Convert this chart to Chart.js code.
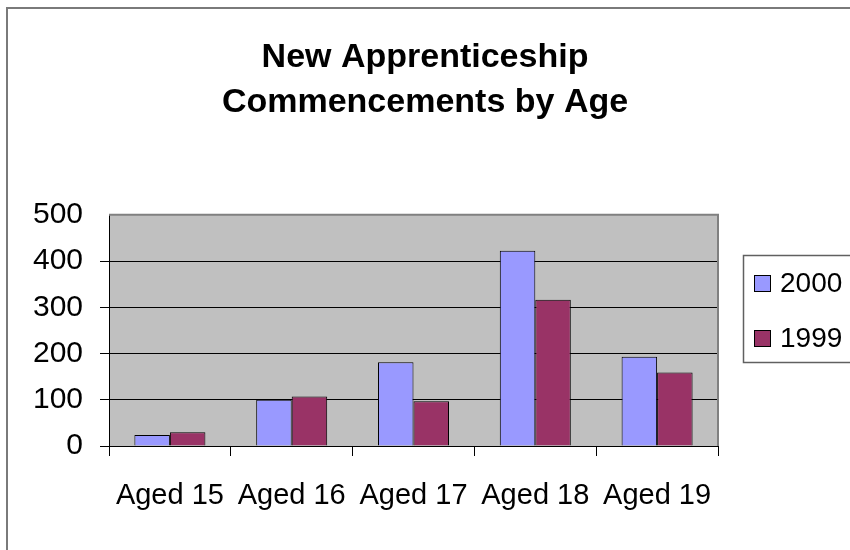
<!DOCTYPE html>
<html>
<head>
<meta charset="utf-8">
<script src="https://cdn.jsdelivr.net/npm/chart.js@4"></script>
<style>
  html, body { margin: 0; padding: 0; background: #fff; }
  #wrap { position: absolute; left: 0; top: 0; width: 850px; height: 550px; }
</style>
</head>
<body>
<div id="wrap"><canvas id="chart"></canvas></div>
<script>
// --- data ---
const ageLabels = ['Aged 15', 'Aged 16', 'Aged 17', 'Aged 18', 'Aged 19'];
const values2000 = [24, 100, 181, 422, 193];
const values1999 = [30, 107, 97, 316, 159];
const yTicks = [0, 100, 200, 300, 400, 500];

const FONT = '"Liberation Sans", Arial, sans-serif';

// grey plot background, outer frame, plot top/right edges
const frame = {
  id: 'frame',
  beforeDraw(chart) {
    const { ctx, chartArea: a } = chart;
    ctx.save();
    ctx.fillStyle = '#c0c0c0';
    ctx.fillRect(a.left, a.top, a.right - a.left, a.bottom - a.top);
    // outer chart border (only top and left are visible)
    ctx.strokeStyle = '#7a7a7a';
    ctx.lineWidth = 2;
    ctx.beginPath();
    ctx.moveTo(7, 560);
    ctx.lineTo(7, 8);
    ctx.lineTo(860, 8);
    ctx.stroke();
    ctx.restore();
  },
  afterDraw(chart) {
    const { ctx, chartArea: a } = chart;
    ctx.save();
    ctx.strokeStyle = '#808080';
    ctx.lineWidth = 2;
    ctx.beginPath();
    ctx.moveTo(a.left, a.top);
    ctx.lineTo(a.right, a.top);
    ctx.lineTo(a.right, a.bottom);
    ctx.stroke();
    ctx.restore();
  }
};

// boxed legend on the right, built from the datasets
const boxLegend = {
  id: 'boxLegend',
  afterDraw(chart) {
    const ctx = chart.ctx;
    ctx.save();
    ctx.strokeStyle = '#606060';
    ctx.lineWidth = 1.5;
    ctx.strokeRect(743.5, 255.5, 200, 107);
    ctx.font = '28px ' + FONT;
    ctx.textBaseline = 'middle';
    chart.data.datasets.forEach((ds, i) => {
      const cy = 283 + i * 55;
      ctx.fillStyle = ds.backgroundColor;
      ctx.fillRect(754, cy - 8, 17, 17);
      ctx.strokeStyle = '#000';
      ctx.lineWidth = 1;
      ctx.strokeRect(754.5, cy - 7.5, 16, 16);
      ctx.fillStyle = '#000';
      ctx.fillText(ds.label, 780, cy + 1);
    });
    ctx.restore();
  }
};

new Chart(document.getElementById('chart'), {
  type: 'bar',
  data: {
    labels: ageLabels,
    datasets: [
      { label: '2000', data: values2000, backgroundColor: '#9999ff', borderColor: '#000', borderWidth: 1 },
      { label: '1999', data: values1999, backgroundColor: '#993366', borderColor: '#000', borderWidth: 1 }
    ]
  },
  options: {
    responsive: true,
    maintainAspectRatio: false,
    animation: false,
    layout: { padding: 0 },
    datasets: { bar: { categoryPercentage: 0.583, barPercentage: 1 } },
    plugins: {
      legend: { display: false },
      tooltip: { enabled: false },
      title: {
        display: true,
        text: ['New Apprenticeship', 'Commencements by Age'],
        color: '#000',
        font: { family: FONT, size: 34, weight: 'bold', lineHeight: 1.32 },
        padding: { top: 35, bottom: 90 }
      }
    },
    scales: {
      x: {
        afterFit(scale) { scale.height = 104; },
        grid: { drawOnChartArea: false, color: '#000', tickLength: 10, offset: true },
        border: { color: '#000', width: 1 },
        ticks: { color: '#000', font: { family: FONT, size: 29 }, padding: 23, maxRotation: 0 }
      },
      y: {
        min: 0,
        max: 500,
        afterFit(scale) { scale.width = 109; },
        afterBuildTicks(scale) { scale.ticks = yTicks.map(v => ({ value: v })); },
        grid: {
          color: ctx => (ctx.tick && ctx.tick.value === 500 ? 'rgba(0,0,0,0)' : '#000'),
          tickLength: 9
        },
        border: { color: '#000', width: 1 },
        ticks: { color: '#000', font: { family: FONT, size: 30 }, padding: 17 }
      },
      // empty right-hand box: keeps room for the legend while the title stays centred on the page
      legendSpace: {
        position: 'right',
        min: 0,
        max: 500,
        afterFit(scale) { scale.width = 132; },
        grid: { display: false },
        border: { display: false },
        ticks: { display: false }
      }
    }
  },
  plugins: [frame, boxLegend]
});
</script>
</body>
</html>
